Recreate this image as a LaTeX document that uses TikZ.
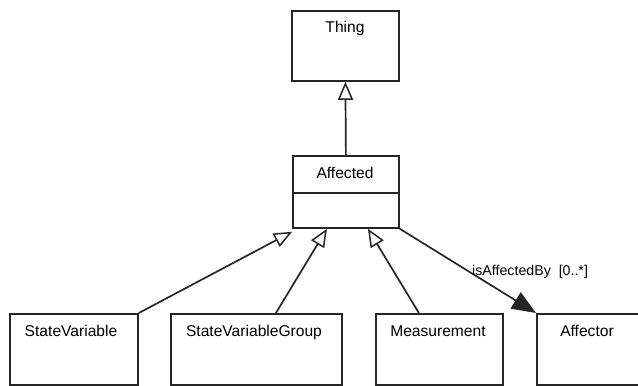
\documentclass[tikz,border=0pt]{standalone}
\usepackage{fontspec}
\setmainfont{Liberation Sans}
\usetikzlibrary{arrows.meta}
\begin{document}
\begin{tikzpicture}[x=1pt,y=-1pt,
  box/.style={draw=black!85, line width=1.8pt, minimum width=#1, inner sep=0pt, anchor=north west},
  txt/.style={font=\fontsize{15.6}{18}\selectfont, anchor=base, inner sep=0pt},
  gen/.style={draw=black!85, line width=1.7pt, -{Triangle[open, length=18pt, width=15pt, fill=white, line width=1.5pt]}},
  assoc/.style={draw=black!85, line width=1.7pt, -{Triangle[length=24pt, width=19pt]}},
  lbl/.style={font=\fontsize{14.2}{16}\selectfont, anchor=base west, inner sep=0pt}]
\useasboundingbox (0,0) rectangle (638,386);
% boxes
\node[box=107pt, minimum height=70pt] (thing) at (291,10) {};
\node[box=106pt, minimum height=37pt] (affh) at (292,155) {};
\node[box=106pt, minimum height=35pt] (affb) at (292,192) {};
\node[box=128pt, minimum height=71pt] (sv) at (9,313) {};
\node[box=171pt, minimum height=71pt] (svg) at (170,313) {};
\node[box=127pt, minimum height=71pt] (meas) at (375,313) {};
\node[box=103pt, minimum height=71pt] (affr) at (536,313) {};
% texts
\node[txt] (thingt) at (345,32) {Thing};
\node[txt] (afft) at (345,178) {Affected};
\node[txt] (svt) at (71,336) {StateVariable};
\node[txt] (svgt) at (254,336) {StateVariableGroup};
\node[txt] (meast) at (438,336) {Measurement};
\node[txt] (affrt) at (587,336) {Affector};
% connectors
\draw[gen] (affh.north) -- (thing.south);
\draw[gen] (sv.north east) -- ([yshift=-3pt]affb.south west);
\draw[gen] ([xshift=19.5pt]svg.north) -- ([xshift=-19pt]affb.south);
\draw[gen] ([xshift=-20.5pt]meas.north) -- ([xshift=22pt]affb.south);
\draw[assoc] (affb.south east) -- (affr.north west);
\node[lbl] (rolelbl) at (472,275) {isAffectedBy\ \ [0..*]};
\end{tikzpicture}
\end{document}
